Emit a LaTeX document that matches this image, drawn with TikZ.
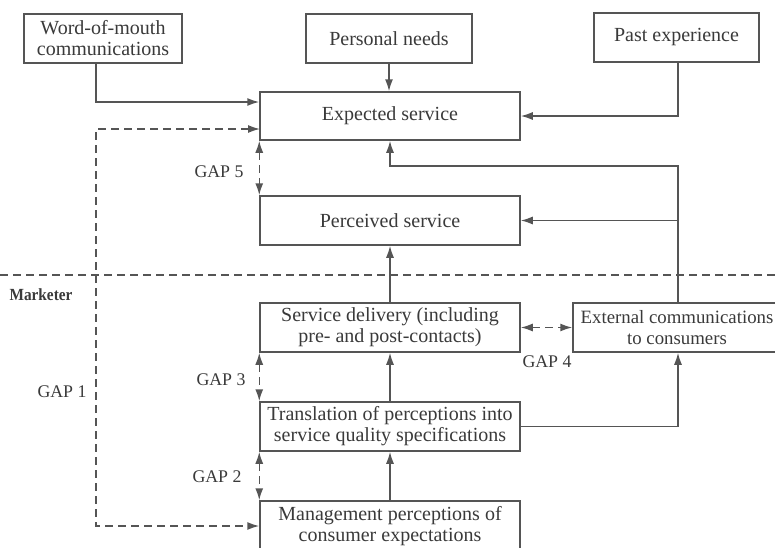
\documentclass[tikz,border=0pt]{standalone}
\usepackage{fontspec}
\setmainfont{Liberation Serif}
\usetikzlibrary{arrows.meta,calc}
\definecolor{ln}{HTML}{555555}
\definecolor{tx}{HTML}{3A3A3A}
\begin{document}
\begin{tikzpicture}[x=0.5pt,y=-0.5pt,
  box/.style={draw=ln,line width=0.75pt,fill=white,inner sep=0pt,align=center,text=tx,
    font=\fontsize{10}{10.5}\selectfont},
  arr/.style={draw=ln,line width=0.75pt,-{Latex[length=6pt,width=4pt]}},
  gapline/.style={draw=ln,line width=0.75pt,dash pattern=on 4pt off 2.5pt},
  gaparr/.style={gapline,{Latex[length=6pt,width=4pt]}-{Latex[length=6pt,width=4pt]}},
  lab/.style={text=tx,inner sep=0pt,font=\fontsize{8.9}{10}\selectfont}]
\useasboundingbox (0,0) rectangle (775,547);
\clip (0,0) rectangle (775,547);
\fill[white] (0,0) rectangle (775,547);
% boxes
\node[box,minimum width=79pt,minimum height=24.5pt] (wom) at (103,38.5) {Word-of-mouth\\communications};
\node[box,minimum width=83pt,minimum height=24.5pt] (pn) at (389,38.5) {Personal needs};
\node[box,minimum width=82.5pt,minimum height=24.5pt] (pe) at (676.5,37.5) {Past experience};
\node[box,minimum width=130pt,minimum height=24pt] (es) at (390,116) {Expected service};
\node[box,minimum width=130pt,minimum height=24.5pt] (ps) at (390,220.5) {Perceived service};
\node[box,minimum width=130pt,minimum height=24.5pt] (sd) at (390,327.5) {Service delivery (including\\pre- and post-contacts)};
\node[box,minimum width=104pt,minimum height=24.5pt,font=\fontsize{9.4}{10.5}\selectfont] (ec) at (677,327.5) {External communications\\to consumers};
\node[box,minimum width=130pt,minimum height=24.5pt] (tr) at (390,426.5) {Translation of perceptions into\\service quality specifications};
\node[box,minimum width=130pt,minimum height=25pt] (mp) at (390,526) {Management perceptions of\\consumer expectations};
% helper coordinates
\coordinate (j1) at (96,102);
\coordinate (g1a) at (260,129);
\coordinate (cE) at (678,166);
\coordinate (dl) at (0,275);
\coordinate (dr) at (775,275);
% divider
\draw[gapline] (dl) -- (dr);
% solid connectors
\draw[arr] (wom.south -| j1) -- (j1) -- (es.west |- j1);
\draw[arr] (pn.south) -- (pn.south |- es.north);
\draw[arr] (pe.south -| cE) |- (es.east);
\draw[arr] (ec.north -| cE) -- (cE) -| (es.south);
\draw[arr] (ps.east -| cE) -- (ps.east);
\draw[arr] (sd.north) -- (ps.south);
\draw[arr] (tr.north) -- (sd.south);
\draw[arr] (mp.north) -- (tr.south);
\draw[arr] (tr.east) -| (ec.south -| cE);
% gaps
\draw[gaparr] (g1a) -- (g1a -| j1) -- (j1 |- mp.west) -- (mp.west);
\draw[gaparr] (es.south west) -- (ps.north west);
\draw[gaparr] (sd.south west) -- (tr.north west);
\draw[gaparr] (tr.south west) -- (mp.north west);
\draw[gaparr] (sd.east) -- (ec.west);
% labels
\node[lab] (l5) at (219,172) {GAP 5};
\node[lab] (l3) at (221,380) {GAP 3};
\node[lab] (l2) at (217,477) {GAP 2};
\node[lab] (l1) at (62,392) {GAP 1};
\node[lab] (l4) at (547,362) {GAP 4};
\node[text=tx,inner sep=0pt,font=\bfseries\fontsize{8.5}{9}\selectfont,xscale=0.9] (mk) at (41,295) {Marketer};
\end{tikzpicture}
\end{document}
